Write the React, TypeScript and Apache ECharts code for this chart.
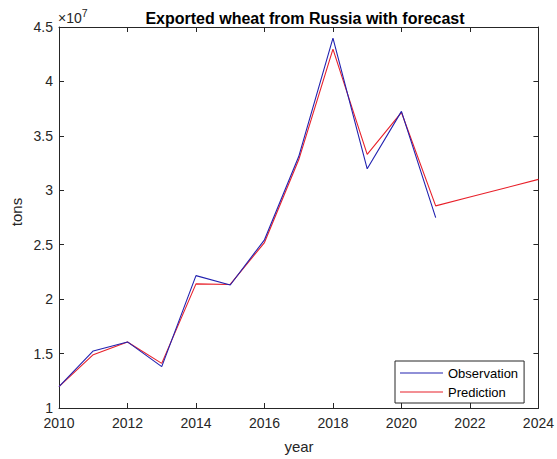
import React, { useEffect, useRef } from "react";
import * as echarts from "echarts";

const years = [2010, 2011, 2012, 2013, 2014, 2015, 2016, 2017, 2018, 2019, 2020, 2021];
const observation = [1.196, 1.524, 1.607, 1.38, 2.216, 2.13, 2.545, 3.31, 4.398, 3.197, 3.725, 2.749];
const predYears = [2010, 2011, 2012, 2013, 2014, 2015, 2016, 2017, 2018, 2019, 2020, 2021, 2022, 2023, 2024];
const prediction = [1.196, 1.49, 1.607, 1.41, 2.14, 2.135, 2.52, 3.28, 4.297, 3.33, 3.715, 2.857, 2.938, 3.019, 3.1];
const scale = 1e7;

const FONT = "'Liberation Sans', Arial, Helvetica, sans-serif";
const AX = "#262626";

export default function App() {
  const ref = useRef<HTMLDivElement>(null);
  useEffect(() => {
    if (!ref.current) return;
    const chart = echarts.init(ref.current, undefined, { renderer: "svg" });
    const obsData = years.map((y, i) => [y, observation[i] * scale]);
    const predData = predYears.map((y, i) => [y, prediction[i] * scale]);
    const axisCommon = {
      axisLine: { show: true, lineStyle: { color: AX, width: 1 } },
      axisTick: { show: true, inside: true, length: 5, lineStyle: { color: AX, width: 1 } },
      splitLine: { show: false },
    };
    chart.setOption({
      animation: false,
      backgroundColor: "#ffffff",
      textStyle: { fontFamily: FONT },
      grid: { left: 59, right: 18, top: 27, bottom: 51, containLabel: false },
      title: {
        text: "Exported wheat from Russia with forecast",
        left: 300,
        textAlign: "center",
        top: 5,
        textStyle: { fontFamily: FONT, fontSize: 16, fontWeight: "bold", color: "#000" },
      },
      legend: {
        orient: "vertical",
        left: 395,
        top: 361,
        icon: "rect",
        itemWidth: 43,
        itemHeight: 1.2,
        itemGap: 5,
        padding: [5, 6, 4, 5],
        borderColor: AX,
        borderWidth: 1,
        backgroundColor: "#fff",
        textStyle: { fontFamily: FONT, fontSize: 13, lineHeight: 14, color: "#000" },
        data: ["Observation", "Prediction"],
      },
      xAxis: [
        {
          type: "value",
          min: 2010,
          max: 2024,
          interval: 2,
          ...axisCommon,
          axisLabel: { margin: 8, fontFamily: FONT, fontSize: 14, color: AX, formatter: (v: number) => String(v) },
        },
        {
          type: "value",
          position: "top",
          min: 2010,
          max: 2024,
          interval: 2,
          ...axisCommon,
          axisLabel: { show: false },
        },
      ],
      yAxis: [
        {
          type: "value",
          min: 1 * scale,
          max: 4.5 * scale,
          interval: 0.5 * scale,
          ...axisCommon,
          axisLabel: {
            margin: 6,
            fontFamily: FONT,
            fontSize: 14,
            color: AX,
            formatter: (v: number) => String(Math.round((v / scale) * 10) / 10),
          },
        },
        {
          type: "value",
          position: "right",
          min: 1 * scale,
          max: 4.5 * scale,
          interval: 0.5 * scale,
          ...axisCommon,
          axisLabel: { show: false },
        },
      ],
      graphic: [
        {
          type: "text",
          left: 58,
          top: 7,
          style: {
            text: "{a|×10}{b|7}",
            rich: {
              a: { fontFamily: FONT, fontSize: 14, fill: AX, verticalAlign: "bottom" },
              b: { fontFamily: FONT, fontSize: 10.5, fill: AX, verticalAlign: "top", padding: [0, 0, 7, 0] },
            },
          },
        },
        {
          type: "text",
          x: 299,
          y: 446,
          style: {
            text: "year",
            fontFamily: FONT,
            fontSize: 15,
            fill: AX,
            textAlign: "center",
            textVerticalAlign: "middle",
          },
        },
        {
          type: "text",
          x: 16,
          y: 212,
          rotation: Math.PI / 2,
          style: {
            text: "tons",
            fontFamily: FONT,
            fontSize: 15,
            fill: AX,
            textAlign: "center",
            textVerticalAlign: "middle",
          },
        },
      ],
      series: [
        {
          name: "Observation",
          type: "line",
          data: obsData,
          symbol: "none",
          lineStyle: { color: "#2222b0", width: 1.1 },
          itemStyle: { color: "#2222b0" },
          z: 3,
        },
        {
          name: "Prediction",
          type: "line",
          data: predData,
          symbol: "none",
          lineStyle: { color: "#e8202a", width: 1.1 },
          itemStyle: { color: "#e8202a" },
          z: 2,
        },
      ],
    });
    return () => chart.dispose();
  }, []);
  return <div ref={ref} style={{ width: 557, height: 459, position: "absolute", left: 0, top: 0 }} />;
}
